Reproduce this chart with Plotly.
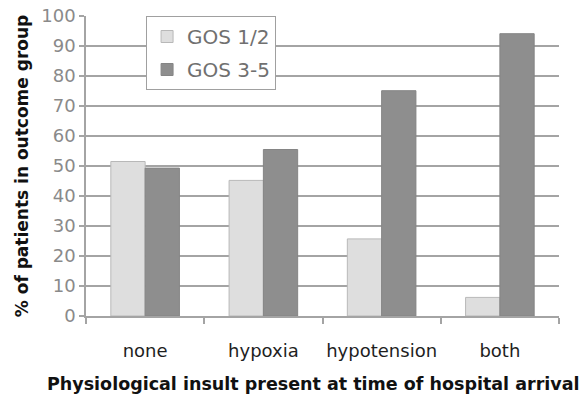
import plotly.graph_objects as go

# Outcome by physiological insult at hospital arrival
categories = ["none", "hypoxia", "hypotension", "both"]
gos_1_2 = [51.5, 45.2, 25.7, 6.2]
gos_3_5 = [49.3, 55.5, 75.1, 94.1]
series_names = ["GOS 1/2", "GOS 3-5"]
x_title = "Physiological insult present at time of hospital arrival"
y_title = "% of patients in outcome group"

FONT = "DejaVu Sans, Arial, sans-serif"
GRID = "#a4a4a4"

fig = go.Figure()
fig.add_trace(go.Bar(
    x=categories, y=gos_1_2, name=series_names[0], legendgroup="g1",
    marker=dict(color="#dedede", line=dict(color="#b8b8b8", width=1)),
))
fig.add_trace(go.Bar(
    x=categories, y=gos_3_5, name=series_names[1], legendgroup="g2",
    marker=dict(color="#8e8e8e", line=dict(color="#858585", width=1)),
))

fig.update_layout(
    width=584, height=398,
    margin=dict(l=86, r=25, t=16, b=82),
    paper_bgcolor="white", plot_bgcolor="white",
    barmode="group", bargap=0.42, bargroupgap=0,
    font=dict(family=FONT, size=18, color="#222222"),
    legend=dict(
        x=0.127, y=1.0, xanchor="left", yanchor="top",
        bgcolor="white", bordercolor="#a0a0a0", borderwidth=1,
        font=dict(family=FONT, size=20, color="#707070"),
        itemwidth=30, traceorder="grouped", tracegroupgap=4,
    ),
    showlegend=True,
)

# x-axis title, set slightly left of the plot centre so it fits the page
fig.add_annotation(
    text="<b>" + x_title + "</b>",
    xref="paper", yref="paper", x=0.48, y=-0.225,
    xanchor="center", yanchor="middle", showarrow=False,
    font=dict(family=FONT, size=17.5, color="#111111"),
)

fig.update_xaxes(
    range=[-0.5, 3.5], automargin=False,
    showline=True, linecolor=GRID, linewidth=1.5,
    ticks="outside", ticklen=6, tickcolor=GRID, tickwidth=1.5,
    tickson="boundaries", tickangle=0,
    ticklabelstandoff=18,
    tickfont=dict(family=FONT, size=18, color="#1e1e1e"),
)
fig.update_yaxes(
    range=[0, 100], dtick=10, automargin=False,
    showline=True, linecolor=GRID, linewidth=1.5,
    showgrid=True, gridcolor=GRID, gridwidth=1.5,
    ticks="outside", ticklen=5, tickcolor=GRID, tickwidth=1.5,
    tickfont=dict(family=FONT, size=18, color="#8a8a8a"),
    title=dict(text="<b>" + y_title + "</b>",
               font=dict(family=FONT, size=17, color="#111111"), standoff=8),
    zeroline=False,
)

fig.write_html("out.html")
